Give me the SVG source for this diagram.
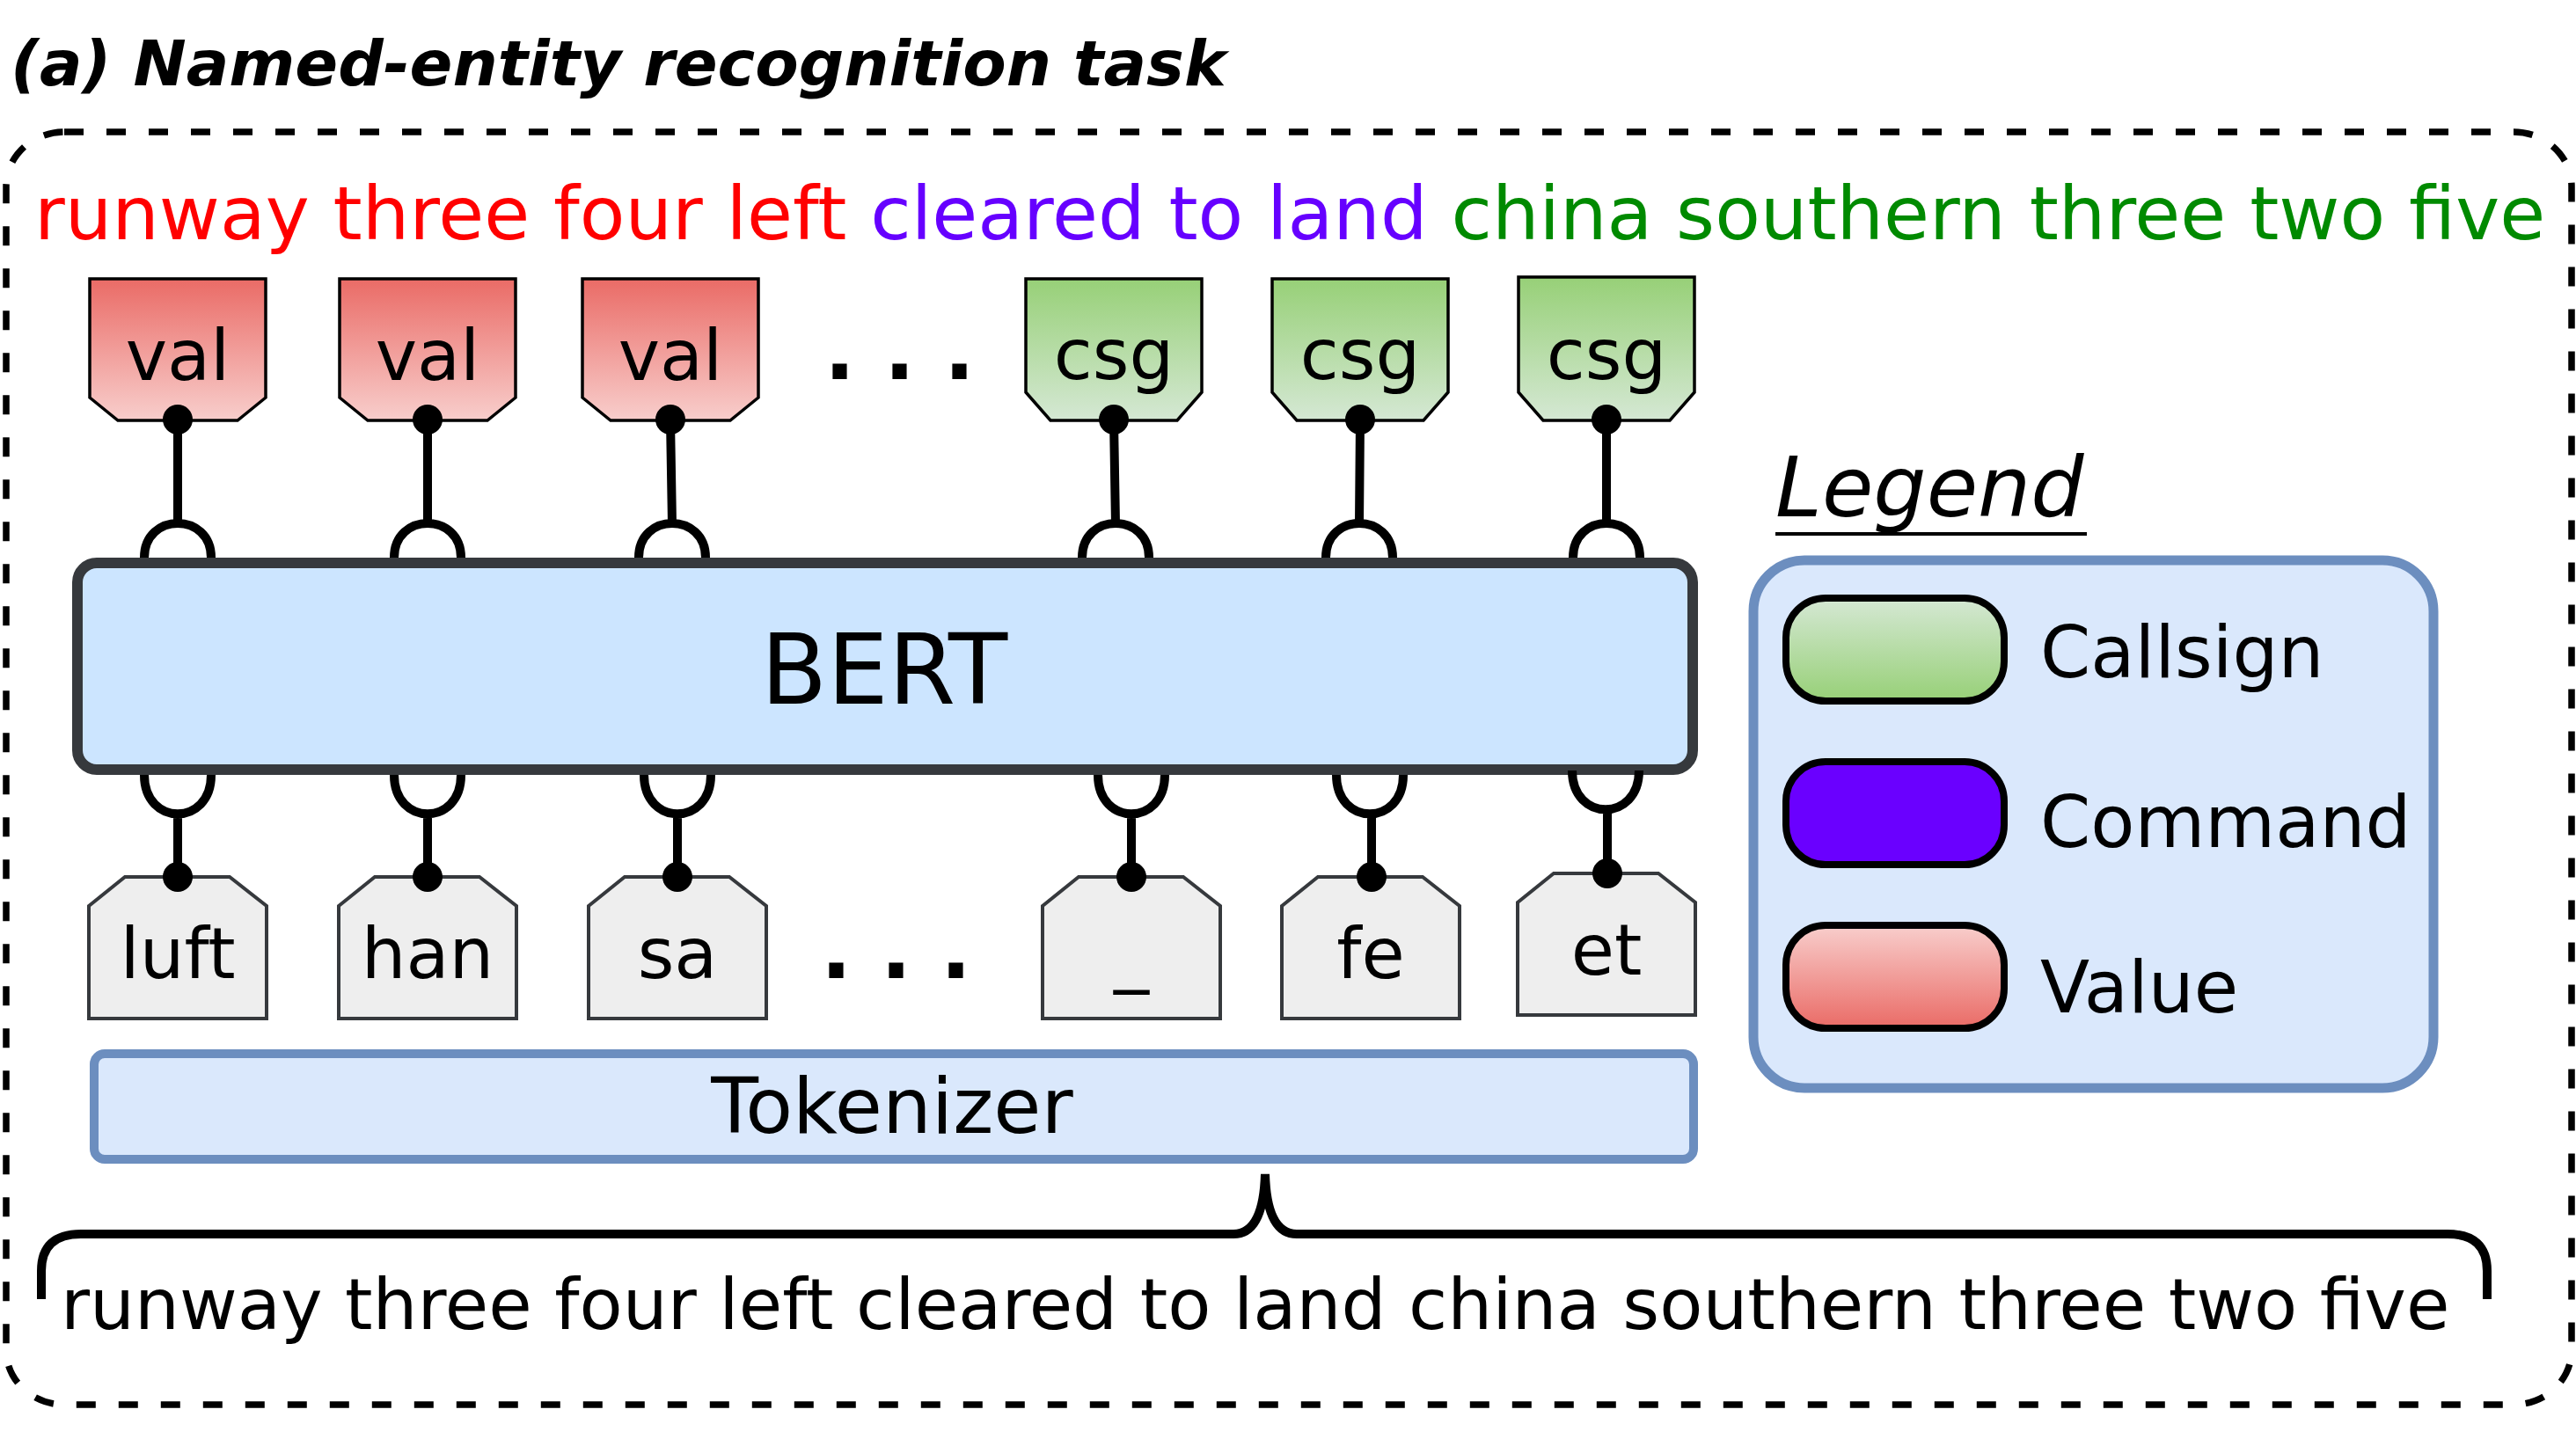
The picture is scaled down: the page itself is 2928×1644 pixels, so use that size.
<svg xmlns="http://www.w3.org/2000/svg" width="2928" height="1644" viewBox="0 0 2928 1644">
<defs>
<linearGradient id="gRedDown" x1="0" y1="0" x2="0" y2="1"><stop offset="0" stop-color="#ea6b66"/><stop offset="1" stop-color="#f8cecc"/></linearGradient>
<linearGradient id="gGreenDown" x1="0" y1="0" x2="0" y2="1"><stop offset="0" stop-color="#97d077"/><stop offset="1" stop-color="#d5e8d4"/></linearGradient>
<linearGradient id="gRedUp" x1="0" y1="0" x2="0" y2="1"><stop offset="0" stop-color="#f8cecc"/><stop offset="1" stop-color="#ea6b66"/></linearGradient>
<linearGradient id="gGreenUp" x1="0" y1="0" x2="0" y2="1"><stop offset="0" stop-color="#d5e8d4"/><stop offset="1" stop-color="#97d077"/></linearGradient>
</defs>
<style>
text{font-family:"DejaVu Sans","Verdana",sans-serif;fill:#000}
.lbl{font-size:80px;text-anchor:middle}
.val{fill:url(#gRedDown);stroke:#000;stroke-width:3.5}
.csg{fill:url(#gGreenDown);stroke:#000;stroke-width:3.5}
.tok{fill:#eeeeee;stroke:#36393d;stroke-width:4}
.dots{font-size:92px;font-weight:bold;letter-spacing:33px}
.conn{fill:none;stroke:#000;stroke-width:10}
.dot{fill:#000}
.sw{stroke:#000;stroke-width:8}
.leg{font-size:82px}
</style>
<rect x="0" y="0" width="2928" height="1644" fill="#fff"/>
<text id="title" x="12" y="97" style="font-size:72px;font-weight:bold;font-style:italic">(a) Named-entity recognition task</text>
<rect id="frame" x="7" y="150" width="2916" height="1447" rx="66" ry="62" fill="none" stroke="#000" stroke-width="7.5" stroke-dasharray="22 26"/>
<text id="sentence-top" x="39" y="272" style="font-size:84.5px"><tspan fill="#ff0000">runway three four left </tspan><tspan fill="#6600ff">cleared to land </tspan><tspan fill="#008a00">china southern three two five</tspan></text>

<g id="label-val-1"><polygon class="val" points="102,317 302,317 302,452 270,478 134,478 102,452"/><text class="lbl" x="202" y="432">val</text></g>
<g id="label-val-2"><polygon class="val" points="386,317 586,317 586,452 554,478 418,478 386,452"/><text class="lbl" x="486" y="432">val</text></g>
<g id="label-val-3"><polygon class="val" points="662,317 862,317 862,452 830,478 694,478 662,452"/><text class="lbl" x="762" y="432">val</text></g>
<text id="dots-top" class="dots" x="937" y="431">...</text>
<g id="label-csg-1"><polygon class="csg" points="1166,317 1366,317 1366,446 1338,478 1194,478 1166,446"/><text class="lbl" x="1266" y="431">csg</text></g>
<g id="label-csg-2"><polygon class="csg" points="1446,317 1646,317 1646,446 1618,478 1474,478 1446,446"/><text class="lbl" x="1546" y="431">csg</text></g>
<g id="label-csg-3"><polygon class="csg" points="1726,315 1926,315 1926,446 1898,478 1754,478 1726,446"/><text class="lbl" x="1826" y="431">csg</text></g>

<g id="bert"><rect x="88" y="640" width="1836" height="235" rx="22" fill="#cce5ff" stroke="#36393d" stroke-width="12"/><text x="1005" y="800" style="font-size:110px;text-anchor:middle">BERT</text></g>

<g id="token-luft"><polygon class="tok" points="101,1030 142,997 261,997 303,1030 303,1158 101,1158"/><text class="lbl" x="202" y="1112">luft</text></g>
<g id="token-han"><polygon class="tok" points="385,1030 426,997 545,997 587,1030 587,1158 385,1158"/><text class="lbl" x="486" y="1112">han</text></g>
<g id="token-sa"><polygon class="tok" points="669,1030 710,997 829,997 871,1030 871,1158 669,1158"/><text class="lbl" x="770" y="1112">sa</text></g>
<text id="dots-bottom" class="dots" x="933" y="1112">...</text>
<g id="token-underscore"><polygon class="tok" points="1185,1030 1226,997 1345,997 1387,1030 1387,1158 1185,1158"/><text class="lbl" x="1286" y="1112">_</text></g>
<g id="token-fe"><polygon class="tok" points="1457,1030 1498,997 1617,997 1659,1030 1659,1158 1457,1158"/><text class="lbl" x="1558" y="1112">fe</text></g>
<g id="token-et"><polygon class="tok" points="1725,1026 1766,993 1885,993 1927,1026 1927,1154 1725,1154"/><text class="lbl" x="1826" y="1108">et</text></g>

<g id="tokenizer"><rect x="107" y="1198" width="1818" height="120" rx="12" fill="#dae8fc" stroke="#6c8ebf" stroke-width="10"/><text x="1014" y="1288" style="font-size:88px;text-anchor:middle">Tokenizer</text></g>

<g id="brace"><path class="conn" d="M47 1477 L47 1445 Q47 1403 92 1403 L1402 1403 Q1436 1403 1438 1335 Q1440 1403 1474 1403 L2782 1403 Q2827 1403 2827 1445 L2827 1477"/></g>
<text id="sentence-bottom" x="69" y="1511" style="font-size:80.4px">runway three four left cleared to land china southern three two five</text>

<g id="legend">
<text x="2018" y="587" style="font-size:95px;font-style:italic">Legend</text>
<line x1="2018" y1="607" x2="2372" y2="607" stroke="#000" stroke-width="4"/>
<rect x="1993" y="637" width="773" height="600" rx="58" fill="#dae8fc" stroke="#6c8ebf" stroke-width="11"/>
<rect class="sw" x="2030" y="680" width="248" height="117" rx="45" fill="url(#gGreenUp)"/>
<text class="leg" x="2319" y="770">Callsign</text>
<rect class="sw" x="2030" y="866" width="248" height="117" rx="45" fill="#6a00ff"/>
<text class="leg" x="2319" y="963">Command</text>
<rect class="sw" x="2030" y="1052" width="248" height="117" rx="45" fill="url(#gRedUp)"/>
<text class="leg" x="2319" y="1151">Value</text>
</g>

<g id="connectors">
<g id="top-connectors">
<path class="conn" d="M202 477 L202 596 M164 634 C164 582 240 582 240 634"/><circle class="dot" cx="202" cy="477" r="17"/>
<path class="conn" d="M486 477 L486 596 M448 634 C448 582 524 582 524 634"/><circle class="dot" cx="486" cy="477" r="17"/>
<path class="conn" d="M762 477 L764 596 M726 634 C726 582 802 582 802 634"/><circle class="dot" cx="762" cy="477" r="17"/>
<path class="conn" d="M1266 477 L1268 596 M1230 634 C1230 582 1306 582 1306 634"/><circle class="dot" cx="1266" cy="477" r="17"/>
<path class="conn" d="M1546 477 L1545 596 M1507 634 C1507 582 1583 582 1583 634"/><circle class="dot" cx="1546" cy="477" r="17"/>
<path class="conn" d="M1826 477 L1826 596 M1788 634 C1788 582 1864 582 1864 634"/><circle class="dot" cx="1826" cy="477" r="17"/>
</g>
<g id="bottom-connectors">
<path class="conn" d="M164 881 C164 940 240 940 240 881 M202 925 L202 997"/><circle class="dot" cx="202" cy="997" r="17"/>
<path class="conn" d="M448 881 C448 940 524 940 524 881 M486 925 L486 997"/><circle class="dot" cx="486" cy="997" r="17"/>
<path class="conn" d="M732 881 C732 940 808 940 808 881 M770 925 L770 997"/><circle class="dot" cx="770" cy="997" r="17"/>
<path class="conn" d="M1248 881 C1248 940 1324 940 1324 881 M1286 925 L1286 997"/><circle class="dot" cx="1286" cy="997" r="17"/>
<path class="conn" d="M1519 881 C1519 940 1595 940 1595 881 M1559 925 L1559 997"/><circle class="dot" cx="1559" cy="997" r="17"/>
<path class="conn" d="M1787 876 C1787 935 1863 935 1863 876 M1827 920 L1827 993"/><circle class="dot" cx="1827" cy="993" r="17"/>
</g>
</g>
</svg>
